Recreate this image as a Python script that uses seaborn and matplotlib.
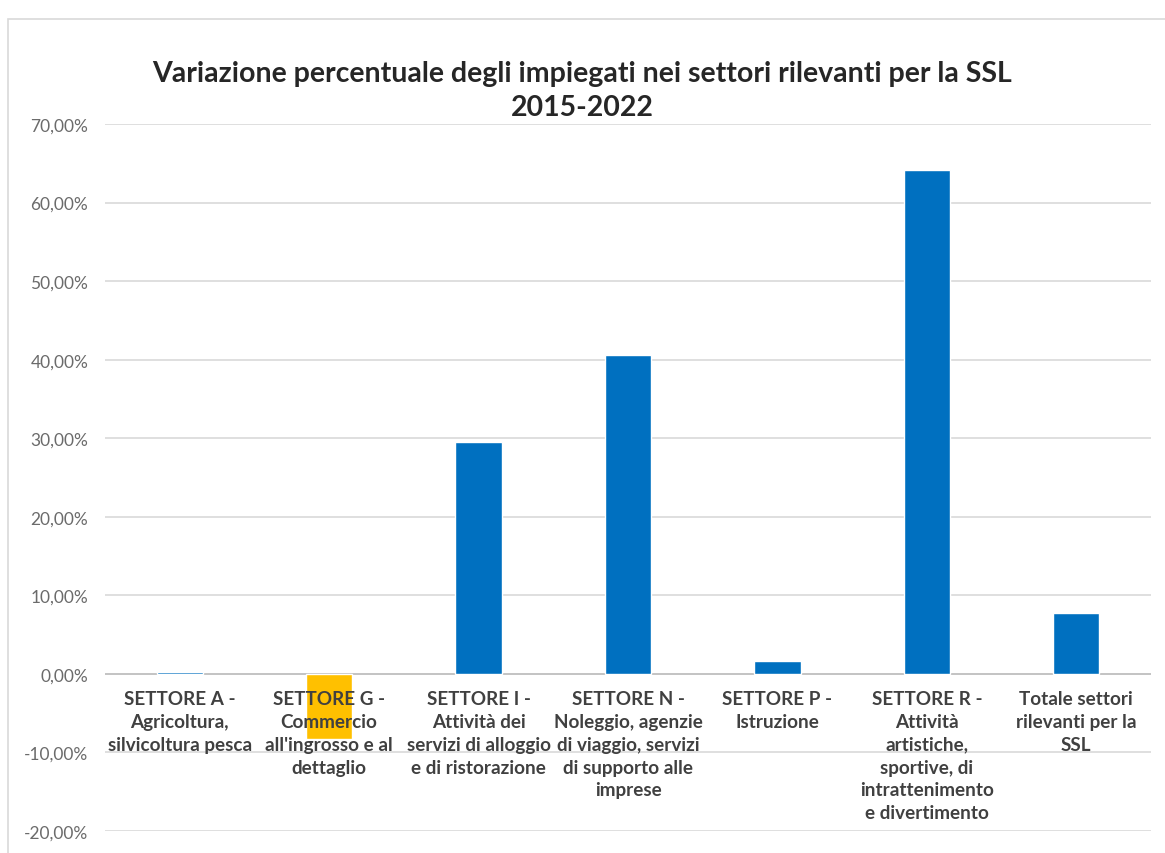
import matplotlib
matplotlib.use("Agg")
import matplotlib.pyplot as plt
import matplotlib.transforms as mtransforms
from matplotlib.patches import Rectangle
from matplotlib.ticker import FuncFormatter, MultipleLocator
import seaborn as sns
import pandas as pd

# Sector labels (wrapped as shown under each bar)
categories = [
    "SETTORE A -\nAgricoltura,\nsilvicoltura pesca",
    "SETTORE G -\nCommercio\nall'ingrosso e al\ndettaglio",
    "SETTORE I -\nAttività dei\nservizi di alloggio\ne di ristorazione",
    "SETTORE N -\nNoleggio, agenzie\ndi viaggio, servizi\ndi supporto alle\nimprese",
    "SETTORE P -\nIstruzione",
    "SETTORE R -\nAttività\nartistiche,\nsportive, di\nintrattenimento\ne divertimento",
    "Totale settori\nrilevanti per la\nSSL",
]
# Percentage change of employees 2015-2022 (fractions)
values = [0.003, -0.083, 0.295, 0.406, 0.016, 0.641, 0.077]
bar_colors = ["#0070C0", "#FFC000", "#0070C0", "#0070C0", "#0070C0", "#0070C0", "#0070C0"]

title_lines = ["Variazione percentuale degli impiegati nei settori rilevanti per la SSL", "2015-2022"]

sns.set_theme(style="white")
plt.rcParams["font.family"] = ["Lato", "DejaVu Sans"]

W, H, DPI = 1165, 854, 100
fig = plt.figure(figsize=(W / DPI, H / DPI), dpi=DPI, facecolor="white")

# chart frame
fig.patches.append(Rectangle((8 / W, -0.1), 1.2, (H - 20) / H + 0.1,
                             transform=fig.transFigure, fill=False,
                             edgecolor="#d9d9d9", linewidth=1.2, zorder=0))

ax = fig.add_axes([105 / W, 1 - 832 / H, (1151 - 105) / W, (832 - 125) / H])

df = pd.DataFrame({"settore": categories, "variazione": values})
sns.barplot(data=df, x="settore", y="variazione", hue="settore",
            palette=bar_colors, legend=False, width=0.31, saturation=1,
            ax=ax, zorder=2)

ax.set_ylim(-0.20, 0.70)
ax.set_xlim(-0.5, len(categories) - 0.5)
ax.yaxis.set_major_locator(MultipleLocator(0.10))
ax.yaxis.set_major_formatter(FuncFormatter(lambda v, _: f"{v * 100:.2f}%".replace(".", ",")))
ax.grid(axis="y", color="#d9d9d9", linewidth=1.2, zorder=0)
ax.axhline(0, color="#bfbfbf", linewidth=1.2, zorder=1)
for s in ax.spines.values():
    s.set_visible(False)
ax.set_xlabel("")
ax.set_ylabel("")
ax.set_xticks(range(len(categories)))
ax.set_xticklabels([])
ax.tick_params(axis="x", length=0)
ax.tick_params(axis="y", length=0, pad=12, labelsize=12.5, labelcolor="#6b6b6b")

# sector labels just below the zero line
trans = mtransforms.offset_copy(ax.transData, fig=fig, x=0, y=-16, units="dots")
for i, lab in enumerate(categories):
    ax.text(i, 0, lab, transform=trans, ha="center", va="top", fontsize=13.6,
            fontweight="bold", color="#404040", linespacing=1.42, zorder=5)

fig.text(0.5, 1 - 74 / H, title_lines[0], ha="center", va="center",
         fontsize=20.5, fontweight="bold", color="#262626")
fig.text(0.5, 1 - 108 / H, title_lines[1], ha="center", va="center",
         fontsize=20.5, fontweight="bold", color="#262626")

fig.savefig("out.png", dpi=DPI, facecolor="white")
